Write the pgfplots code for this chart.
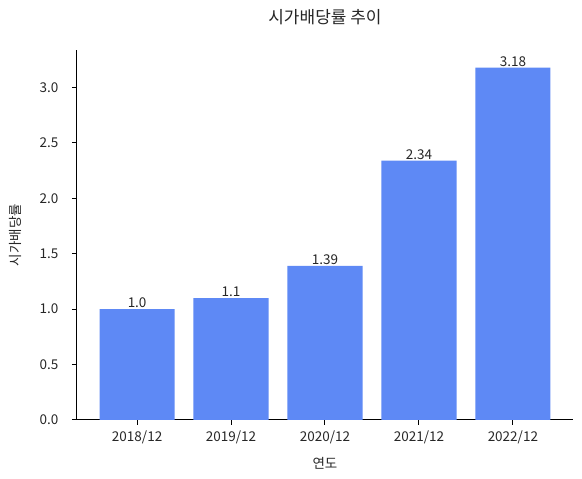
\documentclass[border=0pt]{standalone}
\usepackage{fontspec}
\setmainfont{Noto Sans CJK KR}
\usepackage{pgfplots}
\pgfplotsset{compat=1.18}
\definecolor{barblue}{RGB}{94,137,245}
\definecolor{txt}{RGB}{38,38,38}

\begin{document}
\begin{tikzpicture}[x=1pt,y=1pt]
\useasboundingbox (-77,-59) rectangle (505,420);
\begin{axis}[
    at={(0,0)}, anchor=south west,
    scale only axis,
    width=496pt, height=370pt,
    xmin=-0.64, xmax=4.64,
    ymin=0, ymax=3.339,
    xtick={0,1,2,3,4},
    xticklabels={2018/12,2019/12,2020/12,2021/12,2022/12},
    ytick={0,0.5,1,1.5,2,2.5,3},
    yticklabel={\pgfmathprintnumber[fixed,fixed zerofill,precision=1]{\tick}},
    /pgf/number format/assume math mode=true,
    axis x line*=bottom, axis y line*=left,
    axis line style={line width=1pt,-},
    tick style={line width=1pt,black},
    tick align=outside,
    major tick length=5pt,
    ticklabel style={font=\fontsize{13.5}{14}\selectfont, text=txt},
    xticklabel style={yshift=-2pt},
    yticklabel style={xshift=-10pt},
    title={시가배당률 추이},
    title style={font=\fontsize{17}{19}\selectfont, text=txt, at={([yshift=27pt]axis description cs:0.5,1)}, anchor=center},
    xlabel={연도},
    xlabel style={font=\fontsize{13.5}{14}\selectfont, text=txt, at={([yshift=-43pt]axis description cs:0.5,0)}, anchor=center},
    ylabel={시가배당률},
    ylabel style={font=\fontsize{13.5}{14}\selectfont, text=txt, at={([xshift=-62pt]axis description cs:0,0.5)}, anchor=center},
    ybar, bar width=0.8, bar shift=0pt,
    point meta=explicit symbolic,
    nodes near coords={\pgfplotspointmeta},
    nodes near coords style={font=\fontsize{13.5}{14}\selectfont, text=txt, anchor=south, inner sep=1pt},
]
\addplot[fill=barblue, draw=none] coordinates {
    (0,1.0) [1.0]
    (1,1.1) [1.1]
    (2,1.39) [1.39]
    (3,2.34) [2.34]
    (4,3.18) [3.18]
};
\end{axis}
\end{tikzpicture}
\end{document}
